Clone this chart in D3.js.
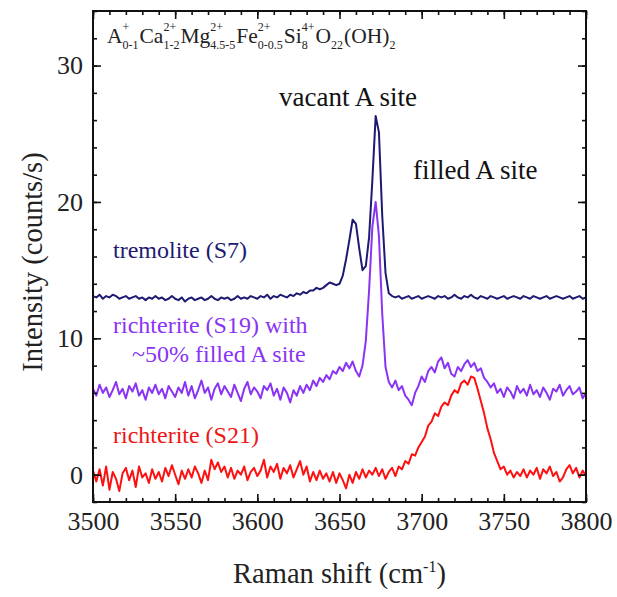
<!DOCTYPE html>
<html>
<head>
<meta charset="utf-8">
<script src="https://cdnjs.cloudflare.com/ajax/libs/d3/7.8.5/d3.min.js"></script>
<style>
body { margin: 0; background: #ffffff; }
text { font-family: "Liberation Serif", "Times New Roman", serif; }
</style>
</head>
<body>
<svg id="chart"></svg>
<script>
var width = 617;
var height = 597;

var plotLeft = 93, plotRight = 586, plotTop = 11, plotBottom = 502;

// Raman shift, sampled every 2 cm-1
var shiftStart = 3500, shiftEnd = 3800, shiftStep = 2;

var tremolite = [
	13.1, 13.0, 13.2, 12.9, 13.1, 13.0, 13.2, 13.1, 12.9, 13.0,
	13.1, 12.9, 13.0, 13.1, 12.9, 13.0, 12.8, 13.0, 12.9, 13.1,
	12.9, 13.0, 12.8, 12.9, 13.1, 12.9, 12.8, 13.0, 12.7, 12.9,
	13.0, 12.8, 12.9, 13.0, 12.8, 12.9, 13.1, 12.9, 12.8, 13.0,
	12.9, 13.0, 12.8, 12.9, 13.1, 12.9, 13.0, 12.9, 13.1, 13.0,
	12.9, 13.1, 13.0, 13.2, 12.9, 13.1, 13.0, 13.2, 13.1, 13.0,
	13.2, 13.1, 13.3, 13.2, 13.4, 13.3, 13.5, 13.5, 13.7, 13.6,
	13.7, 13.9, 14.1, 14.0, 13.9, 14.0, 14.6, 15.8, 17.2, 18.7,
	18.4, 16.6, 15.0, 15.3, 17.4, 21.6, 26.3, 25.1, 19.0, 14.8,
	13.3, 13.1, 13.0, 13.1, 12.9, 13.0, 13.1, 12.9, 13.0, 13.1,
	12.9, 13.0, 13.1, 13.0, 12.9, 13.1, 13.0, 13.1, 12.9, 13.0,
	13.2, 13.0, 12.9, 13.1, 13.0, 13.2, 13.0, 12.9, 13.1, 13.0,
	12.9, 13.1, 13.0, 12.9, 13.0, 13.1, 12.9, 13.0, 13.1, 13.0,
	12.9, 13.1, 13.0, 12.9, 13.1, 13.0, 12.9, 13.0, 13.1, 12.9,
	13.0, 13.1, 13.0, 12.9, 13.0, 13.1, 12.9, 13.0, 13.1, 12.9,
	13.0
];

var richteriteS19 = [
	6.3, 5.8, 6.6, 6.0, 6.4, 5.7, 6.2, 6.8, 5.9, 6.3,
	5.6, 6.5, 6.1, 6.7, 5.8, 6.2, 5.5, 6.4, 6.0, 6.6,
	5.9, 6.3, 5.6, 6.5, 6.1, 5.7, 6.4, 6.0, 6.8, 5.8,
	6.5, 5.6, 6.2, 6.9, 6.0, 6.4, 5.5, 6.3, 6.7, 5.9,
	6.5, 6.1, 5.7, 6.6, 6.0, 5.4, 6.3, 6.8, 5.9, 6.4,
	6.1, 5.6, 6.5, 6.2, 6.7, 5.8, 6.3, 5.5, 6.4, 6.0,
	5.3, 6.2, 5.8, 6.5, 6.0, 6.6, 6.2, 6.9, 6.5, 7.1,
	6.8, 7.3, 7.0, 7.6, 7.4, 7.9, 7.6, 8.2, 7.8, 8.3,
	7.6, 7.2, 8.0, 9.8, 13.5, 18.2, 20.0, 17.5, 11.8, 7.9,
	6.8, 6.4, 6.9, 6.2, 6.5, 5.8, 5.5, 5.1, 6.0, 6.5,
	7.2, 6.8, 7.6, 7.9, 7.5, 8.3, 8.6, 7.8, 8.2, 7.4,
	7.2, 7.9, 7.6, 8.1, 8.4, 7.9, 8.2, 7.6, 7.8, 7.1,
	6.8, 6.4, 6.7, 6.0, 6.3, 5.7, 6.4, 6.1, 5.6, 6.5,
	6.0, 6.3, 5.8, 6.6, 5.9, 6.2, 5.7, 6.4, 6.0, 5.5,
	6.3, 6.1, 6.6, 5.8, 6.2, 6.5, 5.9, 6.1, 6.4, 5.6,
	6.0
];

var richteriteS21 = [
	0.3, -0.5, 0.4, -0.8, 0.6, -1.1, 0.2, -0.3, -1.2, 0.1,
	0.5, -0.4, 0.3, -0.9, 0.6, -0.2, 0.1, -0.6, 0.4, -0.3,
	0.2, -0.5, 0.5, -0.1, 0.7, 0.0, -0.7, 0.3, -0.3, 0.4,
	-0.2, 0.6, 0.1, -0.6, 0.3, -0.4, 1.1, 0.4, 0.9, 0.2,
	0.6, -0.2, 0.5, -0.3, 0.3, 0.0, 0.6, -0.4, 0.2, 0.5,
	-0.1, 0.3, 1.1, -0.2, 0.6, 0.2, 0.8, -0.3, 0.5, 0.1,
	0.7, -0.2, 0.4, 1.0, 0.0, 0.6, -0.5, 0.2, -0.4, 0.3,
	-0.3, 0.1, -0.5, 0.2, -0.6, 0.1, -0.4, -1.0, 0.0, -0.6,
	0.2, -0.3, 0.4, -0.2, 0.3, 0.0, 0.5, -0.1, 0.4, -0.3,
	0.2, 0.5, -0.1, 0.6, 0.4, 1.0, 0.8, 1.5, 1.4, 2.0,
	2.4, 2.8, 3.6, 3.9, 4.5, 4.3, 5.0, 5.3, 5.1, 5.8,
	6.2, 6.0, 6.7, 6.9, 6.6, 7.2, 7.1, 6.3, 5.4, 4.5,
	3.4, 2.6, 1.6, 1.0, 0.4, 0.6, 0.0, 0.3, -0.2, 0.2,
	-0.1, 0.4, -0.2, 0.3, 0.0, 0.5, -0.3, 0.4, 0.1, 0.6,
	-0.1, 0.2, -0.5, -0.2, 0.4, 0.7, 0.1, 0.5, -0.2, 0.3,
	-0.1
];

var xTicks = [3500, 3550, 3600, 3650, 3700, 3750, 3800];
var yTicks = [0, 10, 20, 30];

// formula: symbol, charge, count
var formula = [
	["A", "+", "0-1"],
	["Ca", "2+", "1-2"],
	["Mg", "2+", "4.5-5"],
	["Fe", "2+", "0-0.5"],
	["Si", "4+", "8"],
	["O", "", "22"],
	["(OH)", "", "2"]
];

var series = [
	{ values: tremolite, color: "#1c1a72" },
	{ values: richteriteS19, color: "#8a33f5" },
	{ values: richteriteS21, color: "#ff1010" }
];

var svg = d3.select("#chart")
.attr("width", width)
.attr("height", height);

var x = d3.scaleLinear()
.domain([shiftStart, shiftEnd])
.range([plotLeft, plotRight]);

var y = d3.scaleLinear()
.domain([-2, 34])
.range([plotBottom, plotTop]);

var shifts = d3.range(shiftStart, shiftEnd + 1, shiftStep);

var line = d3.line()
.x(function (d, i) { return x(shifts[i]); })
.y(function (d) { return y(d); });

svg.append("clipPath")
.attr("id", "plotclip")
.append("rect")
.attr("x", plotLeft)
.attr("y", plotTop)
.attr("width", plotRight - plotLeft)
.attr("height", plotBottom - plotTop);

svg.append("g")
.attr("clip-path", "url(#plotclip)")
.selectAll("path")
.data(series)
.enter().append("path")
.attr("d", function (d) { return line(d.values); })
.style("fill", "none")
.style("stroke", function (d) { return d.color; })
.style("stroke-width", 2)
.style("stroke-linejoin", "round");

// axes, ticks pointing inward
function tidy(g) {
	g.select(".domain").remove();
	g.selectAll("line").style("stroke", "#111").style("stroke-width", 1.6);
	g.selectAll("text")
	.style("font-family", "'Liberation Serif', serif")
	.style("font-size", "26px")
	.style("fill", "#222");
}

var minorX = d3.range(3500, 3801, 10);
var minorY = d3.range(-2, 35, 2);

svg.append("g")
.attr("transform", "translate(0," + plotBottom + ")")
.call(d3.axisBottom(x).tickValues(minorX).tickSize(-4).tickFormat(""))
.call(tidy);

svg.append("g")
.attr("transform", "translate(0," + plotBottom + ")")
.call(d3.axisBottom(x).tickValues(xTicks).tickSize(-8).tickPadding(10).tickFormat(d3.format("d")))
.call(tidy);

svg.append("g")
.attr("transform", "translate(0," + plotTop + ")")
.call(d3.axisTop(x).tickValues(minorX).tickSize(-4).tickFormat(""))
.call(tidy);

svg.append("g")
.attr("transform", "translate(0," + plotTop + ")")
.call(d3.axisTop(x).tickValues(xTicks).tickSize(-8).tickFormat(""))
.call(tidy);

svg.append("g")
.attr("transform", "translate(" + plotLeft + ",0)")
.call(d3.axisLeft(y).tickValues(minorY).tickSize(-4).tickFormat(""))
.call(tidy);

svg.append("g")
.attr("transform", "translate(" + plotLeft + ",0)")
.call(d3.axisLeft(y).tickValues(yTicks).tickSize(-8).tickPadding(10).tickFormat(d3.format("d")))
.call(tidy);

svg.append("g")
.attr("transform", "translate(" + plotRight + ",0)")
.call(d3.axisRight(y).tickValues(minorY).tickSize(-4).tickFormat(""))
.call(tidy);

svg.append("g")
.attr("transform", "translate(" + plotRight + ",0)")
.call(d3.axisRight(y).tickValues(yTicks).tickSize(-8).tickFormat(""))
.call(tidy);

svg.append("rect")
.attr("x", plotLeft)
.attr("y", plotTop)
.attr("width", plotRight - plotLeft)
.attr("height", plotBottom - plotTop)
.style("fill", "none")
.style("stroke", "#111")
.style("stroke-width", 2);

// axis titles
var xTitle = svg.append("text")
.attr("x", (plotLeft + plotRight) / 2)
.attr("y", 583)
.style("font-size", "28.5px")
.style("fill", "#222")
.style("text-anchor", "middle");
xTitle.append("tspan").text("Raman shift (cm");
xTitle.append("tspan").attr("dy", -11).style("font-size", "16px").text("-1");
xTitle.append("tspan").attr("dy", 11).text(")");

svg.append("text")
.attr("transform", "translate(42,262) rotate(-90)")
.style("font-size", "28.5px")
.style("fill", "#222")
.style("text-anchor", "middle")
.text("Intensity (counts/s)");

// chemical formula with stacked charges and counts
var fx = 107;
formula.forEach(function (p) {
	var t = svg.append("text")
	.attr("x", fx)
	.attr("y", 43)
	.style("font-size", "21.5px")
	.style("fill", "#222")
	.text(p[0]);
	fx += t.node().getComputedTextLength();
	var w = 0;
	if (p[1]) {
		var s = svg.append("text")
		.attr("x", fx)
		.attr("y", 31)
		.style("font-size", "12px")
		.style("fill", "#222")
		.text(p[1]);
		w = s.node().getComputedTextLength();
	}
	var b = svg.append("text")
	.attr("x", fx)
	.attr("y", 49)
	.style("font-size", "12px")
	.style("fill", "#222")
	.text(p[2]);
	fx += Math.max(w, b.node().getComputedTextLength()) + 1;
});

// annotations
var notes = [
	{ text: "vacant A site", x: 417, y: 106, size: 27, anchor: "end", color: "#111" },
	{ text: "filled A site", x: 413, y: 179, size: 27, anchor: "start", color: "#111" },
	{ text: "tremolite (S7)", x: 113, y: 258, size: 24, anchor: "start", color: "#1c1a72" },
	{ text: "richterite (S19) with", x: 113, y: 333, size: 24, anchor: "start", color: "#8a33f5" },
	{ text: "~50% filled A site", x: 132, y: 362, size: 24, anchor: "start", color: "#8a33f5" },
	{ text: "richterite (S21)", x: 113, y: 443, size: 24, anchor: "start", color: "#ee1515" }
];

svg.selectAll(".note")
.data(notes)
.enter().append("text")
.attr("class", "note")
.attr("x", function (d) { return d.x; })
.attr("y", function (d) { return d.y; })
.style("font-size", function (d) { return d.size + "px"; })
.style("text-anchor", function (d) { return d.anchor; })
.style("fill", function (d) { return d.color; })
.text(function (d) { return d.text; });
</script>
</body>
</html>
